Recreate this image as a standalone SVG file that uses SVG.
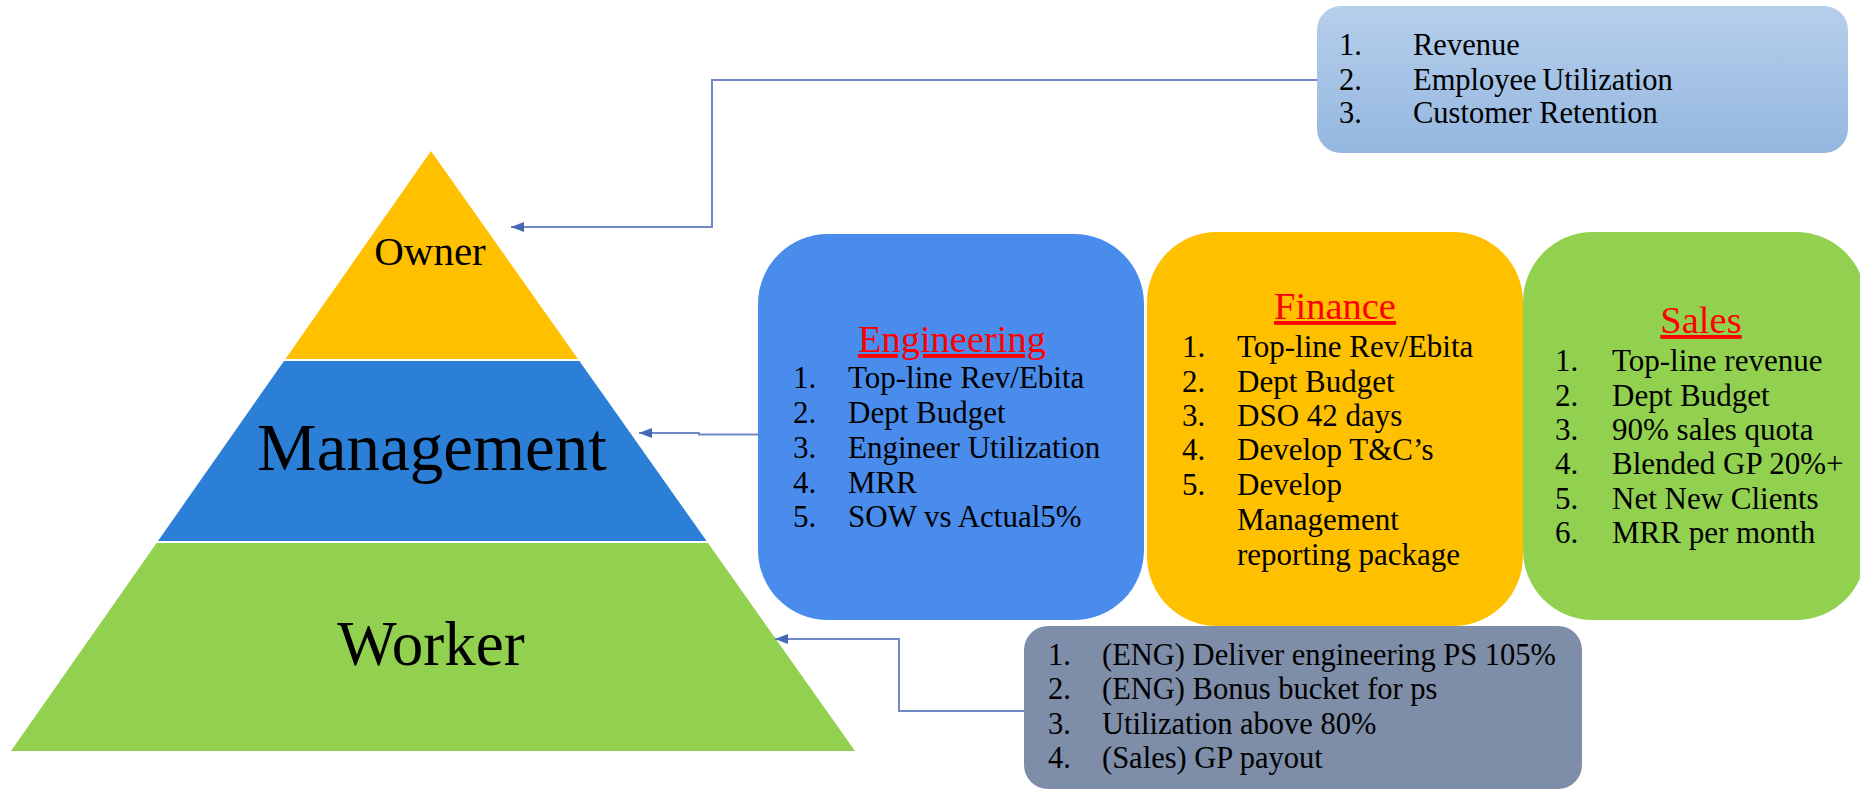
<svg xmlns="http://www.w3.org/2000/svg" width="1860" height="790" viewBox="0 0 1860 790">
  <defs>
    <linearGradient id="kpiTop" x1="0" y1="0" x2="0" y2="1">
      <stop offset="0" stop-color="#B6CFEB"/>
      <stop offset="1" stop-color="#94B7E0"/>
    </linearGradient>
    <marker id="arrow" viewBox="0 0 13 10" markerWidth="13" markerHeight="10" markerUnits="userSpaceOnUse" refX="13" refY="5" orient="auto">
      <path d="M0,0 L13,5 L0,10 z" fill="#4668B4"/>
    </marker>
    <style>
      text { font-family: "Liberation Serif", "Times New Roman", serif; fill: #000; }
      .tier { font-family: "Liberation Serif", "Times New Roman", serif; text-anchor: middle; }
      .item { font-size: 30.5px; }
      .dept .item { font-size: 31px; }
      .title { font-size: 38.5px; fill: #FF0000; text-anchor: middle; text-decoration: underline; }
      .conn { fill: none; stroke: #7088C6; stroke-width: 2; }
    </style>
  </defs>

  <!-- pyramid tiers -->
  <g id="owner">
    <polygon points="431,151 578,359 285.4,359" fill="#FFC000"/>
    <text class="tier" x="430" y="265" font-size="41">Owner</text>
  </g>
  <g id="management">
    <polygon points="284,361 579.4,361 706.6,541 158,541" fill="#2B7FD6"/>
    <text class="tier" x="432" y="470" font-size="67">Management</text>
  </g>
  <g id="worker">
    <polygon points="156.6,543 708,543 855,751 11,751" fill="#92D050"/>
    <text class="tier" x="431" y="665" font-size="63">Worker</text>
  </g>

  <!-- owner KPIs -->
  <g id="owner-kpis">
    <rect x="1317" y="6" width="531" height="147" rx="24" fill="url(#kpiTop)"/>
    <text class="item" x="1339" y="55">1.</text>
    <text class="item" x="1413" y="55">Revenue</text>
    <text class="item" x="1339" y="90">2.</text>
    <text class="item" x="1413" y="90" word-spacing="-2">Employee Utilization</text>
    <text class="item" x="1339" y="123">3.</text>
    <text class="item" x="1413" y="123">Customer Retention</text>
  </g>

  <!-- department boxes -->
  <g id="engineering" class="dept">
    <rect x="758" y="234" width="386" height="386" rx="70" fill="#4A8CEC"/>
    <text class="title" x="952" y="352">Engineering</text>
    <text class="item" x="793" y="388">1.</text>
    <text class="item" x="848" y="388">Top-line Rev/Ebita</text>
    <text class="item" x="793" y="423">2.</text>
    <text class="item" x="848" y="423">Dept Budget</text>
    <text class="item" x="793" y="458">3.</text>
    <text class="item" x="848" y="458">Engineer Utilization</text>
    <text class="item" x="793" y="493">4.</text>
    <text class="item" x="848" y="493">MRR</text>
    <text class="item" x="793" y="527">5.</text>
    <text class="item" x="848" y="527">SOW vs Actual5%</text>
  </g>

  <g id="finance" class="dept">
    <rect x="1147" y="232" width="376" height="394" rx="70" fill="#FFC000"/>
    <text class="title" x="1335" y="319">Finance</text>
    <text class="item" x="1182" y="357">1.</text>
    <text class="item" x="1237" y="357">Top-line Rev/Ebita</text>
    <text class="item" x="1182" y="392">2.</text>
    <text class="item" x="1237" y="392">Dept Budget</text>
    <text class="item" x="1182" y="426">3.</text>
    <text class="item" x="1237" y="426">DSO 42 days</text>
    <text class="item" x="1182" y="460">4.</text>
    <text class="item" x="1237" y="460">Develop T&amp;C’s</text>
    <text class="item" x="1182" y="495">5.</text>
    <text class="item" x="1237" y="495">Develop</text>
    <text class="item" x="1237" y="530">Management</text>
    <text class="item" x="1237" y="565">reporting package</text>
  </g>

  <g id="sales" class="dept">
    <rect x="1523" y="232" width="343" height="388" rx="70" fill="#92D050"/>
    <text class="title" x="1701" y="333">Sales</text>
    <text class="item" x="1555" y="371">1.</text>
    <text class="item" x="1612" y="371">Top-line revenue</text>
    <text class="item" x="1555" y="406">2.</text>
    <text class="item" x="1612" y="406">Dept Budget</text>
    <text class="item" x="1555" y="440">3.</text>
    <text class="item" x="1612" y="440">90% sales quota</text>
    <text class="item" x="1555" y="474">4.</text>
    <text class="item" x="1612" y="474">Blended GP 20%+</text>
    <text class="item" x="1555" y="509">5.</text>
    <text class="item" x="1612" y="509">Net New Clients</text>
    <text class="item" x="1555" y="543">6.</text>
    <text class="item" x="1612" y="543">MRR per month</text>
  </g>

  <!-- worker incentives -->
  <g id="worker-kpis">
    <rect x="1024" y="626" width="558" height="163" rx="24" fill="#7E8DA8"/>
    <text class="item" x="1048" y="665">1.</text>
    <text class="item" x="1102" y="665">(ENG) Deliver engineering PS 105%</text>
    <text class="item" x="1048" y="699">2.</text>
    <text class="item" x="1102" y="699">(ENG) Bonus bucket for ps</text>
    <text class="item" x="1048" y="734">3.</text>
    <text class="item" x="1102" y="734">Utilization above 80%</text>
    <text class="item" x="1048" y="768">4.</text>
    <text class="item" x="1102" y="768">(Sales) GP payout</text>
  </g>

  <!-- elbow connectors -->
  <g id="connectors">
    <path class="conn" d="M1317,80 H712 V227 H511" marker-end="url(#arrow)"/>
    <path class="conn" d="M758,434.5 H699 V433 H639" marker-end="url(#arrow)"/>
    <path class="conn" d="M1024,711 H899 V639 H775" marker-end="url(#arrow)"/>
  </g>
</svg>
